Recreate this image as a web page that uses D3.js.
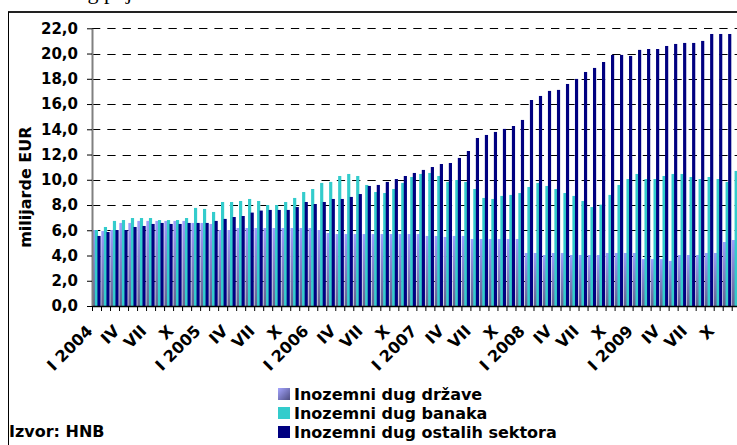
<!DOCTYPE html>
<html>
<head>
<meta charset="utf-8">
<script src="https://cdn.jsdelivr.net/npm/d3@7/dist/d3.min.js"></script>
<style>
  body { margin: 0; background: #fff; }
  svg { display: block; font-family: "DejaVu Sans", sans-serif; font-weight: bold; }
</style>
</head>
<body>
<div id="chart"></div>
<script>
// months I 2004 .. XII 2009
const years = [2004, 2005, 2006, 2007, 2008, 2009];
const romans = ["I","II","III","IV","V","VI","VII","VIII","IX","X","XI","XII"];
const categories = [];
years.forEach(yr => romans.forEach(m => categories.push(m + " " + yr)));

// shown labels, every third month
const tickLabels = ["I 2004","IV","VII","X","I 2005","IV","VII","X","I 2006","IV","VII","X",
  "I 2007","IV","VII","X","I 2008","IV","VII","X","I 2009","IV","VII","X"];

// milijarde EUR
const drzava = [6.02,5.94,6.02,6.58,6.58,6.74,6.74,6.74,6.74,6.74,6.74,6.58,
  6.58,6.5,6.02,6.02,6.18,6.18,6.18,6.18,6.18,6.18,6.18,6.18,
  6.18,6.02,5.78,5.7,5.7,5.7,5.7,5.7,5.7,5.7,5.7,5.7,
  5.7,5.55,5.55,5.47,5.55,5.55,5.31,5.31,5.31,5.31,5.31,5.31,
  4.2,4.2,4.04,4.2,4.2,4.04,4.04,4.04,4.04,4.2,4.2,4.2,
  4.2,3.72,3.72,3.72,3.57,4.04,4.04,4.04,4.2,4.2,5.07,5.23];
const banke = [6.02,6.26,6.74,6.81,6.97,6.97,6.97,6.81,6.81,6.81,6.97,7.77,
  7.69,7.45,8.24,8.24,8.32,8.48,8.32,8.0,8.0,8.24,8.56,9.03,
  9.27,9.75,9.83,10.3,10.46,10.3,9.59,9.03,8.95,9.27,9.75,10.22,
  10.46,10.54,10.3,9.83,9.98,9.83,9.27,8.56,8.48,8.72,8.8,8.95,
  9.43,9.75,9.51,9.27,8.95,8.72,8.32,7.84,8.03,8.8,9.59,10.06,
  10.46,10.06,10.06,10.3,10.46,10.46,10.22,10.06,10.22,10.06,9.83,10.7];
const ostali = [5.55,5.86,6.02,6.02,6.26,6.34,6.5,6.58,6.5,6.5,6.58,6.58,
  6.58,6.74,6.9,7.05,7.13,7.4,7.56,7.61,7.61,7.61,7.84,8.24,
  8.08,8.24,8.48,8.48,8.64,8.87,9.51,9.59,9.83,10.06,10.3,10.54,
  10.78,11.01,11.25,11.33,11.73,12.28,13.31,13.55,13.79,14.03,14.26,14.74,
  16.32,16.64,17.04,17.12,17.59,17.99,18.54,18.86,19.33,19.89,19.89,19.81,
  20.29,20.36,20.36,20.6,20.76,20.84,20.84,21.0,21.55,21.55,21.55,21.39];

const seriesNames = ["Inozemni dug države", "Inozemni dug banaka", "Inozemni dug ostalih sektora"];
const seriesData = [drzava, banke, ostali];
const colors = ["url(#violet)", "#33cccc", "#000080"];

const W = 737, H = 445;
const plotLeft = 92, plotTop = 28.3, plotBottom = 306, step = 9.01;
const plotRight = plotLeft + categories.length * step;

const svg = d3.select("#chart").append("svg")
  .attr("width", W).attr("height", H);

const defs = svg.append("defs");
const grad = defs.append("linearGradient").attr("id", "violet")
  .attr("x1", 0).attr("y1", 0).attr("x2", 0).attr("y2", 1);
grad.append("stop").attr("offset", "0%").attr("stop-color", "#9d9dfb");
grad.append("stop").attr("offset", "100%").attr("stop-color", "#62628f");
const grad2 = defs.append("linearGradient").attr("id", "violetKey")
  .attr("x1", 0).attr("y1", 0).attr("x2", 1).attr("y2", 1);
grad2.append("stop").attr("offset", "0%").attr("stop-color", "#a5a5ff");
grad2.append("stop").attr("offset", "100%").attr("stop-color", "#4d4d80");

// title line above is cut off, only descenders show
svg.append("text")
  .attr("x", -23).attr("y", -1)
  .style("font-family", "'Liberation Serif', serif").style("font-weight", "normal")
  .style("font-size", "22px")
  .text("Inozemni dug pojedinih sektora");

// frame
svg.append("line").attr("x1", 8).attr("x2", W + 5).attr("y1", 12).attr("y2", 12)
  .attr("stroke", "#222").attr("stroke-width", 2);
svg.append("line").attr("x1", 8.5).attr("x2", 8.5).attr("y1", 12).attr("y2", H + 5)
  .attr("stroke", "#000").attr("stroke-width", 1);

const x = d3.scaleBand().domain(categories).range([plotLeft, plotRight]).padding(0);
const xi = d3.scaleLinear().domain([0, categories.length]).range([plotLeft, plotRight]);
const sub = d3.scaleBand().domain(d3.range(3)).range([0.3, 8.0]);
const y = d3.scaleLinear().domain([0, 22]).range([plotBottom, plotTop]);

// dashed grid
svg.append("g").selectAll("line")
  .data(d3.range(2, 23, 2))
  .join("line")
  .attr("x1", plotLeft).attr("x2", plotRight)
  .attr("y1", d => Math.round(y(d)) + 0.5).attr("y2", d => Math.round(y(d)) + 0.5)
  .attr("stroke", "#000").attr("stroke-dasharray", "8.3,7");

// bars
seriesData.forEach((vals, s) => {
  svg.append("g").selectAll("rect")
    .data(vals)
    .join("rect")
    .attr("x", (d, i) => x(categories[i]) + sub(s))
    .attr("width", sub.bandwidth() + 0.6)
    .attr("y", d => y(d))
    .attr("height", d => y(0) - y(d))
    .attr("fill", colors[s]);
});

// y axis
const yAxis = svg.append("g")
  .attr("transform", `translate(${plotLeft},0)`)
  .call(d3.axisLeft(y).tickValues(d3.range(0, 23, 2)).tickSize(5).tickSizeOuter(0)
    .tickFormat(d => d.toFixed(1).replace(".", ",")));
yAxis.select(".domain").attr("stroke", "#808080").attr("stroke-width", 2);
yAxis.selectAll(".tick line").attr("stroke", "#000");
yAxis.selectAll(".tick text").attr("x", -14)
  .style("font-size", "15px").style("font-family", "'DejaVu Sans', sans-serif")
  .style("font-weight", "bold").attr("fill", "#000");

// x axis ticks between months
const xAxis = svg.append("g")
  .attr("transform", `translate(0,${plotBottom})`)
  .call(d3.axisBottom(xi).tickValues(d3.range(0, categories.length + 1)).tickSize(5)
    .tickSizeOuter(0).tickFormat(""));
xAxis.select(".domain").attr("stroke", "#000").attr("stroke-width", 1.5);
xAxis.selectAll(".tick line").attr("stroke", "#000");

// month labels, turned 45 degrees
svg.append("g").selectAll("text")
  .data(tickLabels)
  .join("text")
  .attr("transform", (d, i) => {
    const px = x(categories[i * 3]) + x.bandwidth() / 2 - 3;
    return `translate(${px},${plotBottom + 26}) rotate(-45)`;
  })
  .attr("text-anchor", "end")
  .style("font-size", "16px")
  .text(d => d);

// y title
svg.append("text")
  .attr("transform", `translate(31,${(plotTop + plotBottom) / 2 + 20}) rotate(-90)`)
  .attr("text-anchor", "middle")
  .style("font-size", "16px")
  .text("milijarde EUR");

// legend
const legend = svg.append("g").attr("transform", "translate(278,388)");
const rows = legend.selectAll("g").data(seriesNames).join("g")
  .attr("transform", (d, i) => `translate(0,${i * 19})`);
rows.append("rect").attr("width", 12).attr("height", 12)
  .attr("fill", (d, i) => i === 0 ? "url(#violetKey)" : colors[i]);
rows.append("text").attr("x", 16).attr("y", 12)
  .style("font-size", "16px")
  .text(d => d);

svg.append("text").attr("x", 9).attr("y", 437)
  .style("font-size", "16px")
  .text("Izvor: HNB");
</script>
</body>
</html>
